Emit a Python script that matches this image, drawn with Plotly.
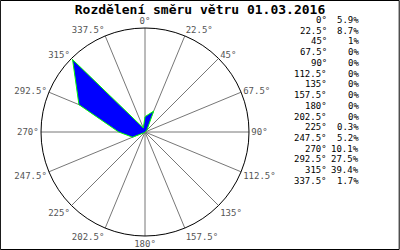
import plotly.graph_objects as go

directions = [0, 22.5, 45, 67.5, 90, 112.5, 135, 157.5, 180, 202.5, 225, 247.5, 270, 292.5, 315, 337.5]
dir_labels = ["0°", "22.5°", "45°", "67.5°", "90°", "112.5°", "135°", "157.5°", "180°",
              "202.5°", "225°", "247.5°", "270°", "292.5°", "315°", "337.5°"]
percent = [5.9, 8.7, 1, 0, 0, 0, 0, 0, 0, 0, 0.3, 5.2, 10.1, 27.5, 39.4, 1.7]
title = "Rozdělení směru větru 01.03.2016"

W, H = 400, 250
cx, cy, R = 145, 132, 104
font = "DejaVu Sans Mono"

fig = go.Figure()
fig.add_trace(go.Scatterpolar(
    r=percent + [percent[0]], theta=directions + [directions[0]],
    mode="lines", fill="toself", fillcolor="#0000ff",
    line=dict(color="#00ff00", width=1), hoverinfo="skip", showlegend=False))

fig.update_layout(
    width=W, height=H, margin=dict(l=0, r=0, t=0, b=0),
    paper_bgcolor="white", plot_bgcolor="white",
    font=dict(family=font, size=9, color="#555555"),
    polar=dict(
        domain=dict(x=[(cx - R) / W, (cx + R) / W], y=[(H - cy - R) / H, (H - cy + R) / H]),
        bgcolor="white",
        angularaxis=dict(rotation=90, direction="clockwise", tickmode="array",
                         tickvals=directions, ticktext=dir_labels, showgrid=True,
                         gridcolor="#777777", gridwidth=1, linecolor="black", linewidth=1,
                         ticks="", tickfont=dict(family=font, size=9, color="#555555")),
        radialaxis=dict(range=[0, 40], visible=False, showgrid=False),
    ),
    title=dict(text="<b>" + title + "</b>", x=0.5, xanchor="center", y=1 - 9 / H, yanchor="middle",
               font=dict(family=font, size=13, color="black")),
    shapes=[dict(type="rect", xref="paper", yref="paper", x0=0.001, x1=0.998, y0=0.002, y1=0.998,
                 line=dict(color="black", width=1))],
)

ann = []
for i, (lab, p) in enumerate(zip(dir_labels, percent)):
    y = 1 - (20 + i * 10.73) / H
    ann.append(dict(x=329 / W, y=y, xref="paper", yref="paper", text=lab, showarrow=False,
                    xanchor="right", yanchor="middle", font=dict(family=font, size=9, color="black")))
    ann.append(dict(x=361 / W, y=y, xref="paper", yref="paper", text=f"{p:g}%", showarrow=False,
                    xanchor="right", yanchor="middle", font=dict(family=font, size=9, color="black")))
fig.update_layout(annotations=ann)

fig.write_html("out.html")
